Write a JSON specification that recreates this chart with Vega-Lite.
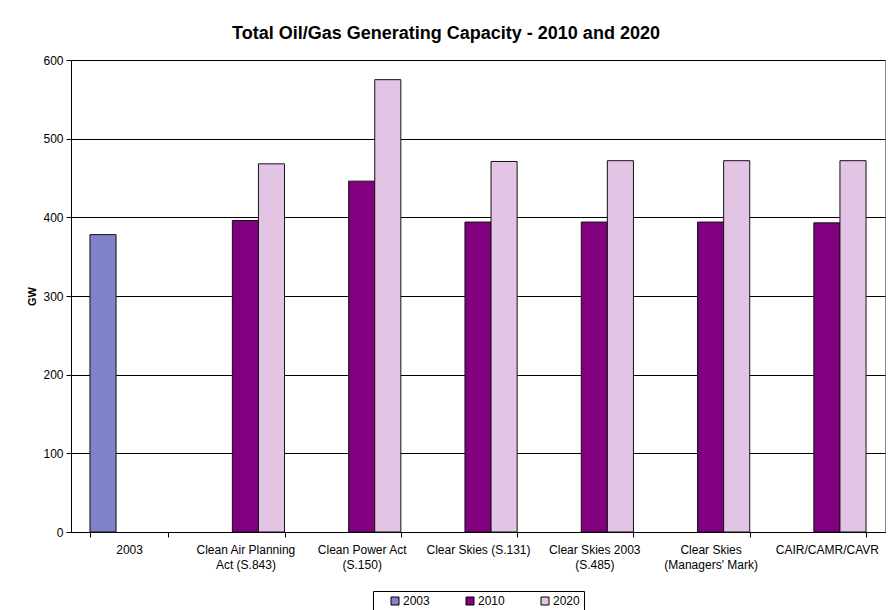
{
  "$schema": "https://vega.github.io/schema/vega-lite/v6.json",
  "width": 814,
  "height": 472,
  "autosize": {"type": "none"},
  "padding": {"left": 71, "top": 60, "right": 5, "bottom": 78},
  "background": "white",
  "title": {
    "text": "Total Oil/Gas Generating Capacity - 2010 and 2020",
    "font": "Liberation Sans",
    "fontSize": 18,
    "fontWeight": "bold",
    "color": "black",
    "anchor": "middle",
    "dx": -32,
    "offset": 11
  },
  "data": {
    "values": [
      {"scenario": "2003", "year": "2003", "gw": 378},
      {"scenario": "Clean Air Planning Act (S.843)", "year": "2010", "gw": 396},
      {"scenario": "Clean Air Planning Act (S.843)", "year": "2020", "gw": 468},
      {"scenario": "Clean Power Act (S.150)", "year": "2010", "gw": 446},
      {"scenario": "Clean Power Act (S.150)", "year": "2020", "gw": 575},
      {"scenario": "Clear Skies (S.131)", "year": "2010", "gw": 394},
      {"scenario": "Clear Skies (S.131)", "year": "2020", "gw": 471},
      {"scenario": "Clear Skies 2003 (S.485)", "year": "2010", "gw": 394},
      {"scenario": "Clear Skies 2003 (S.485)", "year": "2020", "gw": 472},
      {"scenario": "Clear Skies (Managers' Mark)", "year": "2010", "gw": 394},
      {"scenario": "Clear Skies (Managers' Mark)", "year": "2020", "gw": 472},
      {"scenario": "CAIR/CAMR/CAVR", "year": "2010", "gw": 393},
      {"scenario": "CAIR/CAMR/CAVR", "year": "2020", "gw": 472}
    ]
  },
  "mark": {"type": "bar", "stroke": "#111111", "strokeWidth": 1},
  "encoding": {
    "x": {
      "field": "scenario",
      "type": "nominal",
      "sort": null,
      "scale": {"paddingInner": 0.327, "paddingOuter": 0.163},
      "axis": {
        "title": null,
        "labelAngle": 0,
        "labelFont": "Liberation Sans",
        "labelFontSize": 12,
        "labelColor": "black",
        "labelLimit": 200,
        "labelPadding": 7,
        "labelLineHeight": 15,
        "labelBaseline": "top",
        "tickBand": "extent",
        "tickSize": 5,
        "tickColor": "black",
        "domainColor": "black",
        "grid": false,
        "labelExpr": "datum.value == 'Clean Air Planning Act (S.843)' ? ['Clean Air Planning', 'Act (S.843)'] : datum.value == 'Clean Power Act (S.150)' ? ['Clean Power Act', '(S.150)'] : datum.value == 'Clear Skies 2003 (S.485)' ? ['Clear Skies 2003', '(S.485)'] : datum.value == \"Clear Skies (Managers' Mark)\" ? ['Clear Skies', \"(Managers' Mark)\"] : datum.label"
      }
    },
    "xOffset": {
      "field": "year",
      "type": "nominal",
      "sort": ["2003", "2010", "2020"],
      "scale": {"paddingInner": 0, "paddingOuter": 0}
    },
    "y": {
      "field": "gw",
      "type": "quantitative",
      "scale": {"domain": [0, 600], "nice": false},
      "axis": {
        "values": [0, 100, 200, 300, 400, 500, 600],
        "title": "GW",
        "titleFont": "Liberation Sans",
        "titleFontSize": 11,
        "titleFontWeight": "bold",
        "titleColor": "black",
        "titlePadding": 5,
        "labelFont": "Liberation Sans",
        "labelFontSize": 12,
        "labelColor": "black",
        "labelPadding": 3,
        "tickSize": 5,
        "tickColor": "black",
        "domainColor": "black",
        "grid": true,
        "gridColor": "black",
        "gridWidth": 1
      }
    },
    "color": {
      "field": "year",
      "type": "nominal",
      "scale": {
        "domain": ["2003", "2010", "2020"],
        "range": ["#8282C8", "#800080", "#E4C4E4"]
      },
      "legend": {
        "orient": "none",
        "legendX": 302,
        "legendY": 531,
        "direction": "horizontal",
        "title": null,
        "symbolType": "square",
        "symbolSize": 64,
        "symbolStrokeColor": "black",
        "symbolStrokeWidth": 1,
        "symbolOffset": 12,
        "labelFont": "Liberation Sans",
        "labelFontSize": 12,
        "labelColor": "black",
        "labelOffset": 2,
        "columnPadding": 22,
        "padding": 4,
        "strokeColor": "black",
        "fillColor": "white"
      }
    }
  },
  "config": {
    "font": "Liberation Sans",
    "view": {"stroke": "#8c8c8c", "strokeWidth": 1}
  }
}
